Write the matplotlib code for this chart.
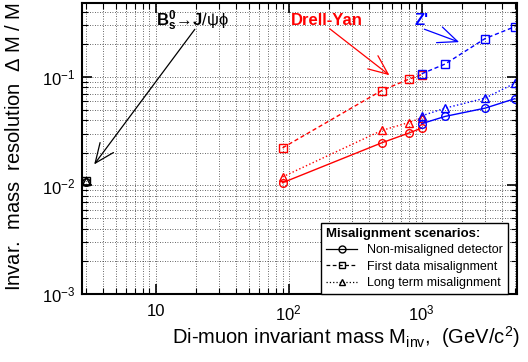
import matplotlib
matplotlib.use("Agg")
import matplotlib.pyplot as plt
from matplotlib.lines import Line2D
import numpy as np

plt.rcParams['font.family'] = ['Liberation Sans', 'DejaVu Sans']
plt.rcParams['mathtext.fontset'] = 'custom'
plt.rcParams['mathtext.rm'] = 'Liberation Sans'
plt.rcParams['mathtext.it'] = 'Liberation Sans:italic'
plt.rcParams['mathtext.bf'] = 'Liberation Sans:bold'

# Drell-Yan (red)
dy_mass = [90, 500, 800, 1000]
dy_ideal = [0.0106, 0.0247, 0.0304, 0.0338]
dy_first = [0.0222, 0.0749, 0.0953, 0.105]
dy_long = [0.0120, 0.0321, 0.0380, 0.0420]

# Z' (blue)
zp_mass = [1000, 1500, 3000, 5000]
zp_ideal = [0.0371, 0.0433, 0.0516, 0.0630]
zp_first = [0.107, 0.1316, 0.226, 0.290]
zp_long = [0.0438, 0.0516, 0.0638, 0.0875]

# B_s -> J/psi phi (black)
bs_mass = [3.0]
bs_ideal = [0.0108]
bs_first = [0.0110]
bs_long = [0.0110]

fig = plt.figure(figsize=(5.28, 3.62), dpi=100)
ax = fig.add_axes([82/528, (362-294)/362, (517-82)/528, (294-3)/362])
ax.set_xscale('log')
ax.set_yscale('log')
ax.set_xlim(2.8, 5200)
ax.set_ylim(1e-3, 0.48)

ms = 5.5
for mass, vals, color in [(dy_mass, (dy_ideal, dy_first, dy_long), 'red'),
                          (zp_mass, (zp_ideal, zp_first, zp_long), 'blue'),
                          (bs_mass, (bs_ideal, bs_first, bs_long), 'black')]:
    ax.plot(mass, vals[0], '-', marker='o', color=color, mfc='none', ms=ms, lw=1.0, mew=1.0)
    ax.plot(mass, vals[1], '--', marker='s', color=color, mfc='none', ms=ms, lw=1.0, mew=1.0, dashes=(3, 2))
    ax.plot(mass, vals[2], ':', marker='^', color=color, mfc='none', ms=ms, lw=1.0, mew=1.0)

ax.grid(True, which='both', ls=(0, (1, 2)), color='black', lw=0.6, alpha=0.8)
ax.tick_params(which='both', direction='in', top=True, right=True, labelsize=12)
ax.tick_params(which='major', length=7, width=1.2)
ax.tick_params(which='minor', length=4, width=0.8)
for s in ax.spines.values():
    s.set_linewidth(1.5)
ax.set_xticks([10, 100, 1000])
ax.set_xticklabels(['10', r'$10^2$', r'$10^3$'])
ax.set_yticks([1e-3, 1e-2, 1e-1])
ax.set_yticklabels([r'$10^{-3}$', r'$10^{-2}$', r'$10^{-1}$'])
ax.tick_params(axis='x', pad=7)
ax.tick_params(axis='y', pad=5)

fig.text(520/528, 1 - 344/362, r'Di-muon invariant mass M$_{\rm inv}$,  (GeV/c$^2$)', fontsize=14.5,
         ha='right', va='baseline')
fig.text(15/528, 1 - 2/362, r'Invar.  mass  resolution  $\Delta$ M / M', fontsize=14.5,
         ha='center', va='top', rotation=90)

# annotations
ax.text(193, 0.333, 'Drell-Yan', color='red', fontsize=12, fontweight='bold', ha='center', va='center')
ax.annotate('', xy=(594, 0.1), xytext=(196, 0.288),
            arrowprops=dict(arrowstyle='->,head_length=1.4,head_width=0.6', color='red', lw=0.9))
ax.text(990, 0.333, "Z'", color='blue', fontsize=12, fontweight='bold', ha='center', va='center')
ax.annotate('', xy=(2000, 0.205), xytext=(1000, 0.281),
            arrowprops=dict(arrowstyle='->,head_length=1.4,head_width=0.6', color='blue', lw=0.9))
ax.text(19, 0.33, r'$\mathbf{B}_\mathbf{s}^\mathbf{0}\!\rightarrow\!\mathbf{J}/\mathrm{\psi\phi}$', color='black',
        fontsize=12, ha='center', va='center')
ax.annotate('', xy=(3.36, 0.0149), xytext=(20.3, 0.288),
            arrowprops=dict(arrowstyle='->,head_length=1.4,head_width=0.6', color='black', lw=0.9))

# legend
handles = [Line2D([], [], color='black', ls='-', marker='o', mfc='none', ms=5, lw=0.9),
           Line2D([], [], color='black', ls='--', marker='s', mfc='none', ms=5, lw=0.9, dashes=(3, 2)),
           Line2D([], [], color='black', ls=':', marker='^', mfc='none', ms=5, lw=0.9)]
leg = ax.legend(handles, ['Non-misaligned detector', 'First data misalignment', 'Long term misalignment'],
                title='Misalignment scenarios:', loc='lower right', bbox_to_anchor=(0.98, 0.0),
                fontsize=9, title_fontproperties={'weight': 'bold', 'size': 9.5},
                frameon=True, fancybox=False, framealpha=1, edgecolor='black',
                borderaxespad=0, handlelength=2.5, labelspacing=0.35, borderpad=0.4)
leg._legend_box.align = 'left'
leg.get_frame().set_linewidth(1.0)

fig.savefig('out.png', dpi=100)
